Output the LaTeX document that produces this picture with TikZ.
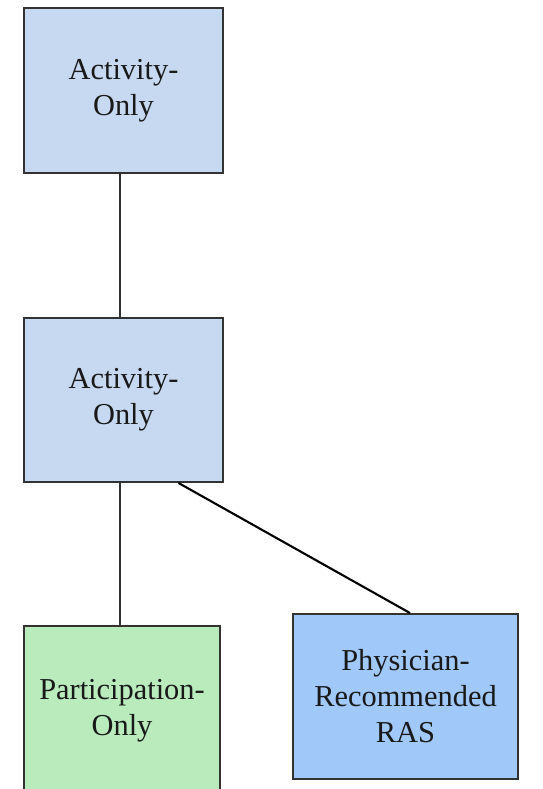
\documentclass[tikz,border=0pt]{standalone}
\usepackage{fontspec}
\setmainfont{Liberation Serif}
\definecolor{actblue}{HTML}{C6D9F0}
\definecolor{partgreen}{HTML}{B9EBBC}
\definecolor{physblue}{HTML}{A0C8F8}
\definecolor{edgegray}{HTML}{333333}

\begin{document}
\begin{tikzpicture}[
  box/.style={draw=edgegray, line width=1.1pt, align=center, inner sep=0pt,
    font=\fontsize{17.3}{20.5}\selectfont, text=black!90},
  link/.style={edgegray, line width=0.9pt}]
\useasboundingbox (0,0) rectangle (10.84,15.78);
\clip (0,0) rectangle (10.84,15.78);
% Nodes
\node[box, fill=actblue, minimum width=3.98cm, minimum height=3.3cm] (top) at (2.47,13.97) {Activity-\\Only};
\node[box, fill=actblue, minimum width=3.98cm, minimum height=3.28cm] (mid) at (2.47,7.78) {Activity-\\Only};
\node[box, fill=partgreen, minimum width=3.92cm, minimum height=3.38cm] (part) at (2.44,1.57) {Participation-\\Only};
\node[box, fill=physblue, minimum width=4.5cm, minimum height=3.3cm] (phys) at (8.11,1.85) {Physician-\\Recommended\\RAS};
% Lines
\draw[link] ([xshift=-0.07cm]top.south) -- ([xshift=-0.07cm]mid.north);
\draw[link] ([xshift=-0.07cm]mid.south) -- ([xshift=-0.04cm]part.north);
\draw[link, line width=1.2pt, black] ([xshift=1.1cm]mid.south) -- ([xshift=0.09cm]phys.north);
\end{tikzpicture}
\end{document}
